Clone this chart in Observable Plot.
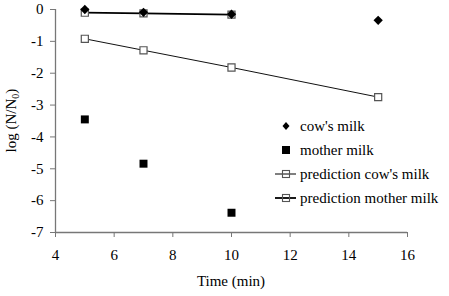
<!DOCTYPE html>
<html>
<head>
<meta charset="utf-8">
<script src="https://cdn.jsdelivr.net/npm/d3@7"></script>
<script src="https://cdn.jsdelivr.net/npm/@observablehq/plot@0.6"></script>
<style>
  html, body { margin: 0; padding: 0; background: #fff; }
  #chart { position: relative; width: 449px; height: 296px; color: #000; }
  #chart, #chart * { font-family: "Liberation Serif", "Times New Roman", serif !important; }
  #legend { position: absolute; left: 274px; top: 114px; font-size: 15px; line-height: 24px; }
  #legend .row { display: flex; align-items: center; height: 24px; }
  #legend svg { width: 24px; height: 14px; margin-right: 2px; flex: none; }
</style>
</head>
<body>
<div id="chart"></div>
<script>
// Survival data: time (min) vs log(N/N0)
const cowTime = [5, 7, 10, 15];
const cowLog = [0, -0.09, -0.15, -0.34];

const motherTime = [5, 7, 10];
const motherLog = [-3.45, -4.84, -6.38];

const predUpperTime = [5, 7, 10];
const predUpperLog = [-0.1, -0.12, -0.16];

const predLowerTime = [5, 7, 10, 15];
const predLowerLog = [-0.92, -1.28, -1.82, -2.75];

const xTicks = [4, 6, 8, 10, 12, 14, 16];
const yTicks = [0, -1, -2, -3, -4, -5, -6, -7];

const toRows = (xs, ys) => xs.map((x, i) => ({x, y: ys[i]}));
const cow = toRows(cowTime, cowLog);
const mother = toRows(motherTime, motherLog);
const predUpper = toRows(predUpperTime, predUpperLog);
const predLower = toRows(predLowerTime, predLowerLog);

const axisColor = "#777";

const plot = Plot.plot({
  width: 449,
  height: 296,
  marginLeft: 55,
  marginRight: 42,
  marginTop: 9,
  marginBottom: 64,
  style: {fontSize: "15px", color: "#000", background: "#fff"},
  x: {domain: [4, 16], ticks: xTicks, label: null},
  y: {domain: [-7, 0], ticks: yTicks, label: null},
  marks: [
    Plot.ruleX([4], {stroke: axisColor, strokeWidth: 1.3}),
    Plot.ruleY([-7], {stroke: axisColor, strokeWidth: 1.3}),
    Plot.axisX({ticks: xTicks, tickSize: 5, tickPadding: 12, fontSize: 15, stroke: axisColor, fill: "#000", tickFormat: d => String(d)}),
    Plot.axisY({ticks: yTicks, tickSize: 5, tickPadding: 7, fontSize: 15, stroke: axisColor, fill: "#000", tickFormat: d => String(d)}),
    Plot.line(predLower, {x: "x", y: "y", stroke: "#111", strokeWidth: 1}),
    Plot.line(predUpper, {x: "x", y: "y", stroke: "#000", strokeWidth: 1.8}),
    Plot.dot(predLower, {x: "x", y: "y", symbol: "square", r: 4, fill: "#fff", stroke: "#555", strokeWidth: 1.2}),
    Plot.dot(predUpper, {x: "x", y: "y", symbol: "square", r: 4, fill: "#fff", stroke: "#555", strokeWidth: 1.2}),
    Plot.dot(mother, {x: "x", y: "y", symbol: "square", r: 4.5, fill: "#000", stroke: "none"}),
    Plot.dot(cow, {x: "x", y: "y", symbol: "diamond2", r: 4.2, fill: "#000", stroke: "none"})
  ]
});

const chart = document.getElementById("chart");
chart.appendChild(plot);

// Axis titles, with a true subscript on N0
const svg = d3.select(plot);
svg.append("text")
  .attr("x", 55 + (449 - 55 - 42) / 2)
  .attr("y", 286)
  .attr("text-anchor", "middle")
  .attr("font-size", 15)
  .text("Time (min)");
const yt = svg.append("text")
  .attr("transform", `translate(16, ${9 + (296 - 64 - 9) / 2}) rotate(-90)`)
  .attr("text-anchor", "middle")
  .attr("font-size", 15);
yt.append("tspan").text("log (N/N");
yt.append("tspan").attr("font-size", 10).attr("dy", 3).text("0");
yt.append("tspan").attr("dy", -3).text(")");

// Legend
const legendItems = [
  {label: "cow's milk", kind: "diamond"},
  {label: "mother milk", kind: "filled"},
  {label: "prediction cow's milk", kind: "open", lw: 1},
  {label: "prediction mother milk", kind: "open", lw: 1.8}
];
const legend = document.createElement("div");
legend.id = "legend";
for (const item of legendItems) {
  const row = document.createElement("div");
  row.className = "row";
  let sw = "";
  if (item.kind === "diamond") sw = `<path d="M12,3 L15.5,7 L12,11 L8.5,7 Z" fill="#000"/>`;
  if (item.kind === "filled") sw = `<rect x="8" y="3" width="8" height="8" fill="#000"/>`;
  if (item.kind === "open") sw = `<line x1="1" y1="7" x2="22" y2="7" stroke="#000" stroke-width="${item.lw}"/><rect x="8.5" y="3.5" width="7" height="7" fill="none" stroke="#555" stroke-width="1.1"/>`;
  row.innerHTML = `<svg viewBox="0 0 24 14">${sw}</svg><span>${item.label}</span>`;
  legend.appendChild(row);
}
chart.appendChild(legend);
</script>
</body>
</html>
